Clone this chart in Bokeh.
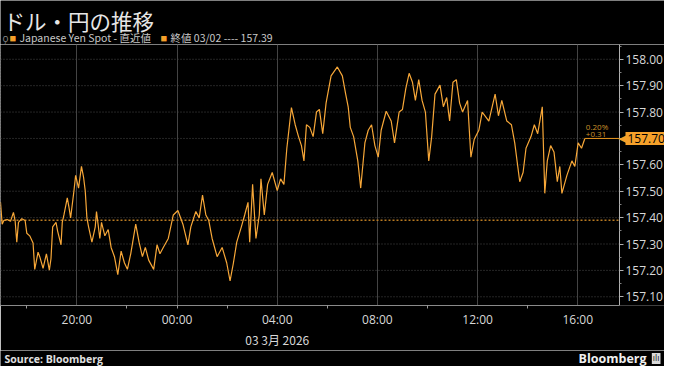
import pandas as pd
from bokeh.plotting import figure
from bokeh.layouts import column
from bokeh.models import Span, Label, FixedTicker, NumeralTickFormatter, Range1d, LinearAxis
from bokeh.embed import file_html
from bokeh.resources import INLINE

# ---------------- data ----------------
times = [
    "03-02 16:57", "03-02 17:01", "03-02 17:05", "03-02 17:13", "03-02 17:21", "03-02 17:28",
    "03-02 17:32", "03-02 17:36", "03-02 17:40", "03-02 17:48", "03-02 17:56", "03-02 18:00",
    "03-02 18:07", "03-02 18:15", "03-02 18:19", "03-02 18:27", "03-02 18:31", "03-02 18:39",
    "03-02 18:47", "03-02 18:54", "03-02 18:58", "03-02 19:02", "03-02 19:10", "03-02 19:14",
    "03-02 19:22", "03-02 19:25", "03-02 19:29", "03-02 19:37", "03-02 19:41", "03-02 19:45",
    "03-02 19:53", "03-02 19:57", "03-02 20:04", "03-02 20:11", "03-02 20:16", "03-02 20:20",
    "03-02 20:24", "03-02 20:28", "03-02 20:36", "03-02 20:44", "03-02 20:47", "03-02 20:55",
    "03-02 20:59", "03-02 21:07", "03-02 21:15", "03-02 21:22", "03-02 21:30", "03-02 21:38",
    "03-02 21:46", "03-02 21:54", "03-02 22:01", "03-02 22:09", "03-02 22:21", "03-02 22:29",
    "03-02 22:37", "03-02 22:44", "03-02 22:52", "03-02 23:04", "03-02 23:12", "03-02 23:19",
    "03-02 23:27", "03-02 23:39", "03-02 23:51", "03-03 00:02", "03-03 00:14", "03-03 00:26",
    "03-03 00:33", "03-03 00:45", "03-03 00:53", "03-03 01:01", "03-03 01:09", "03-03 01:16",
    "03-03 01:24", "03-03 01:36", "03-03 01:48", "03-03 01:59", "03-03 02:07", "03-03 02:15",
    "03-03 02:23", "03-03 02:34", "03-03 02:42", "03-03 02:50", "03-03 02:54", "03-03 03:01",
    "03-03 03:09", "03-03 03:17", "03-03 03:21", "03-03 03:29", "03-03 03:37", "03-03 03:48",
    "03-03 04:00", "03-03 04:08", "03-03 04:16", "03-03 04:23", "03-03 04:34", "03-03 04:43",
    "03-03 04:51", "03-03 04:58", "03-03 05:04", "03-03 05:10", "03-03 05:18", "03-03 05:26",
    "03-03 05:34", "03-03 05:41", "03-03 05:49", "03-03 05:57", "03-03 06:09", "03-03 06:24",
    "03-03 06:36", "03-03 06:44", "03-03 06:50", "03-03 06:55", "03-03 07:03", "03-03 07:13",
    "03-03 07:20", "03-03 07:30", "03-03 07:38", "03-03 07:46", "03-03 07:54", "03-03 08:02",
    "03-03 08:09", "03-03 08:21", "03-03 08:33", "03-03 08:41", "03-03 08:52", "03-03 09:00",
    "03-03 09:08", "03-03 09:16", "03-03 09:24", "03-03 09:31", "03-03 09:39", "03-03 09:47",
    "03-03 09:55", "03-03 10:03", "03-03 10:10", "03-03 10:18", "03-03 10:30", "03-03 10:38",
    "03-03 10:46", "03-03 10:53", "03-03 11:01", "03-03 11:09", "03-03 11:17", "03-03 11:24",
    "03-03 11:36", "03-03 11:44", "03-03 11:52", "03-03 12:03", "03-03 12:11", "03-03 12:27",
    "03-03 12:42", "03-03 12:50", "03-03 12:58", "03-03 13:10", "03-03 13:21", "03-03 13:29",
    "03-03 13:41", "03-03 13:49", "03-03 13:56", "03-03 14:08", "03-03 14:16", "03-03 14:24",
    "03-03 14:35", "03-03 14:41", "03-03 14:47", "03-03 14:55", "03-03 15:03", "03-03 15:11",
    "03-03 15:17", "03-03 15:22", "03-03 15:34", "03-03 15:46", "03-03 15:53", "03-03 16:01",
    "03-03 16:09", "03-03 16:17",
]
prices = [
    157.458, 157.375, 157.389, 157.393, 157.386, 157.420,
    157.389, 157.307, 157.382, 157.396, 157.389, 157.341,
    157.331, 157.304, 157.204, 157.269, 157.252, 157.208,
    157.263, 157.201, 157.245, 157.365, 157.382, 157.348,
    157.297, 157.382, 157.410, 157.475, 157.440, 157.399,
    157.502, 157.560, 157.512, 157.594, 157.553, 157.502,
    157.399, 157.365, 157.307, 157.365, 157.423, 157.321,
    157.382, 157.331, 157.355, 157.287, 157.252, 157.184,
    157.273, 157.228, 157.204, 157.263, 157.375, 157.307,
    157.252, 157.287, 157.239, 157.204, 157.297, 157.263,
    157.287, 157.321, 157.410, 157.427, 157.375, 157.297,
    157.365, 157.423, 157.399, 157.485, 157.410, 157.389,
    157.321, 157.252, 157.287, 157.228, 157.160, 157.228,
    157.307, 157.365, 157.410, 157.458, 157.307, 157.526,
    157.321, 157.410, 157.547, 157.410, 157.526, 157.571,
    157.502, 157.547, 157.526, 157.663, 157.817, 157.752,
    157.707, 157.673, 157.615, 157.752, 157.742, 157.707,
    157.800, 157.810, 157.718, 157.834, 157.937, 157.971,
    157.937, 157.868, 157.820, 157.742, 157.707, 157.615,
    157.512, 157.683, 157.731, 157.752, 157.673, 157.629,
    157.731, 157.803, 157.766, 157.683, 157.800, 157.810,
    157.889, 157.947, 157.913, 157.844, 157.923, 157.844,
    157.800, 157.615, 157.707, 157.868, 157.902, 157.820,
    157.855, 157.766, 157.913, 157.923, 157.834, 157.800,
    157.844, 157.629, 157.697, 157.731, 157.800, 157.766,
    157.868, 157.786, 157.844, 157.766, 157.752, 157.683,
    157.536, 157.571, 157.663, 157.707, 157.752, 157.718,
    157.820, 157.492, 157.615, 157.673, 157.649, 157.536,
    157.594, 157.492, 157.560, 157.615, 157.594, 157.683,
    157.663, 157.700,
]
prev_close = 157.39
range_start_time = "03-02 16:57"
range_end_time = "03-03 17:40"
y_low, y_high = 157.067, 158.056

x_tick_hours = [-4, 0, 4, 8, 12, 16]
x_tick_labels = ["20:00", "00:00", "04:00", "08:00", "12:00", "16:00"]
x_minor_hours = [-6, -2, 0, 2, 6, 10, 14]
date_tick_hour = 4
date_label = "03 3月 2026"
y_ticks = [157.1, 157.2, 157.3, 157.4, 157.5, 157.6, 157.7, 157.8, 157.9, 158.0]
y_minor = [157.05, 157.15, 157.25, 157.35, 157.45, 157.55, 157.65, 157.75, 157.85, 157.95, 158.05]

# ---------------- conversion ----------------
origin = pd.Timestamp("2026-03-03 00:00")
def to_hours(s):
    return (pd.Timestamp("2026-" + s) - origin) / pd.Timedelta(hours=1)

hours = [to_hours(t) for t in times]
x_start = to_hours(range_start_time)
x_end = to_hours(range_end_time)
last = prices[-1]
chg = last - prev_close
pct = chg / prev_close * 100

FONT = "Open Sans"
JP = "Noto Sans CJK JP"
ORANGE = "#f7a738"
TAG = "#f5a02a"
TXT = "#d8d8d8"
W = 664
CHART_W = 619           # plot area width, the rest holds the right scale
TOP_H, MAIN_FRAME_H, AXIS_H, BOT_H = 44, 270, 36, 16

# frame spans the full width; the y axis is pinned at the end of the time range
x_far = x_start + (x_end - x_start) * W / CHART_W
xr = Range1d(x_start, x_far)

def base(h, x_range, y_range, **kw):
    return figure(width=W, height=h, x_range=x_range, y_range=y_range,
                  output_backend="svg", toolbar_location=None,
                  background_fill_color="black", border_fill_color="black",
                  outline_line_color=None, min_border_left=0, min_border_right=0, **kw)

# ---------------- header ----------------
top = base(TOP_H, Range1d(0, W), Range1d(0, TOP_H), x_axis_type=None, y_axis_type=None,
           min_border_top=0, min_border_bottom=0)
top.add_layout(Label(x=3, y=TOP_H - 4, text="ドル・円の推移", text_color="#e6e6e6",
                     text_font=JP, text_font_size="21.5px", text_baseline="top",
                     text_align="left"))
legend_y = 7
top.add_layout(Label(x=2, y=legend_y, text="ǫ", text_color="#8a8a8a", text_font=FONT,
                     text_font_size="10px", text_baseline="middle", text_align="left"))
top.add_layout(Label(x=9, y=legend_y, text="■", text_color=TAG, text_font=FONT,
                     text_font_size="11px", text_baseline="middle", text_align="left"))
top.add_layout(Label(x=19, y=legend_y, text="Japanese Yen Spot - 直近値", text_color="#c8c8c8",
                     text_font=JP, text_font_size="10.5px", text_baseline="middle",
                     text_align="left"))
top.add_layout(Label(x=160, y=legend_y, text="■", text_color=TAG, text_font=FONT,
                     text_font_size="11px", text_baseline="middle", text_align="left"))
top.add_layout(Label(x=170, y=legend_y, text=f"終値 03/02 ---- {prev_close:.2f}",
                     text_color="#c8c8c8", text_font=JP, text_font_size="10.5px",
                     text_baseline="middle", text_align="left"))

# ---------------- main chart ----------------
p = base(MAIN_FRAME_H + AXIS_H, xr, Range1d(y_low, y_high), y_axis_location="right",
         min_border_top=0, min_border_bottom=AXIS_H)

xa = p.xaxis[0]
xa.ticker = FixedTicker(ticks=x_tick_hours, minor_ticks=x_minor_hours)
xa.major_label_overrides = {h: l for h, l in zip(x_tick_hours, x_tick_labels)}
xa.bounds = (x_start, x_end)
xa.major_tick_line_color = None
xa.major_tick_out = 0
xa.major_tick_in = 0
xa.minor_tick_line_color = "#9a9a9a"
xa.minor_tick_in = 0
xa.minor_tick_out = 3
xa.axis_line_color = "#8a8a8a"
xa.major_label_text_color = TXT
xa.major_label_text_font = FONT
xa.major_label_text_font_size = "12px"
xa.major_label_standoff = 2

date_axis = LinearAxis(ticker=FixedTicker(ticks=[date_tick_hour]),
                       major_label_overrides={date_tick_hour: date_label},
                       axis_line_color=None, major_tick_line_color=None,
                       minor_tick_line_color=None, major_tick_out=0, major_tick_in=0,
                       minor_tick_out=0, minor_tick_in=0, major_label_standoff=0,
                       major_label_text_color=TXT, major_label_text_font=JP,
                       major_label_text_font_size="12px")
p.add_layout(date_axis, "below")

ya = p.yaxis[0]
ya.fixed_location = x_end
ya.ticker = FixedTicker(ticks=y_ticks, minor_ticks=y_minor)
ya.formatter = NumeralTickFormatter(format="0.00")
ya.axis_line_color = "#b0b0b0"
ya.major_tick_line_color = "#b0b0b0"
ya.major_tick_in = 0
ya.major_tick_out = 4
ya.minor_tick_line_color = "#808080"
ya.minor_tick_in = 0
ya.minor_tick_out = 2
ya.major_label_text_color = TXT
ya.major_label_text_font = FONT
ya.major_label_text_font_size = "12px"
ya.major_label_standoff = 2

p.xgrid.grid_line_color = "#444444"
p.ygrid.grid_line_color = None
# horizontal dotted grid, limited to the plot area
p.segment(x0=[x_start] * len(y_ticks), x1=[x_end] * len(y_ticks), y0=y_ticks, y1=y_ticks,
          line_color="#4a4a4a", line_dash="1 2", line_width=1)
p.add_layout(Span(location=x_start, dimension="height", line_color="#555555",
                  line_dash="1 2", line_width=1))
# previous close
p.line([x_start, x_end], [prev_close, prev_close], line_color="#b87a22",
       line_dash="2 2", line_width=1.5)

# data line + last value
p.line(hours, prices, line_color=ORANGE, line_width=1.2)
p.line([hours[-1], x_end], [last, last], line_color="#e8961e", line_width=1)

p.add_layout(Label(x=x_end, y=last, x_offset=-1, text="\u25C0", text_color=TAG,
                   text_font="DejaVu Sans", text_font_size="11px", text_baseline="middle",
                   text_align="left"))
p.add_layout(Label(x=x_end, y=last, x_offset=6, text=f"{last:.2f}", text_color="black",
                   text_font=FONT, text_font_size="12px", text_baseline="middle",
                   text_align="left", background_fill_color=TAG, padding=2))
p.add_layout(Label(x=hours[-1], y=last, x_offset=1, y_offset=12, text=f"{pct:.2f}%",
                   text_color="#c8902a", text_font=FONT, text_font_size="8px",
                   text_baseline="middle", text_align="left"))
p.add_layout(Label(x=hours[-1], y=last, x_offset=1, y_offset=4, text=f"{chg:+.2f}",
                   text_color="#c8902a", text_font=FONT, text_font_size="8px",
                   text_baseline="middle", text_align="left"))

# ---------------- footer ----------------
bot = base(BOT_H, xr, Range1d(0, BOT_H), x_axis_type=None, y_axis_type=None,
           min_border_top=0, min_border_bottom=0)
bot.add_layout(Label(x=x_start, y=BOT_H / 2, x_offset=4, text="Source: Bloomberg",
                     text_color="#e0e0e0", text_font=FONT, text_font_size="10.5px",
                     text_font_style="bold", text_baseline="middle", text_align="left"))
bot.add_layout(Label(x=x_far, y=BOT_H / 2, x_offset=-18, text="Bloomberg", text_color="#f0f0f0",
                     text_font=FONT, text_font_size="12.5px", text_font_style="bold",
                     text_baseline="middle", text_align="right"))
bot.add_layout(Label(x=x_far, y=BOT_H / 2, x_offset=-4, text="ılı", text_color="#202020",
                     text_font="DejaVu Sans", text_font_size="8px", text_baseline="middle",
                     text_align="right", background_fill_color="#d8d8d8", padding=1))

layout = column(top, p, bot, spacing=0)
open("out.html", "w").write(file_html(layout, INLINE))
